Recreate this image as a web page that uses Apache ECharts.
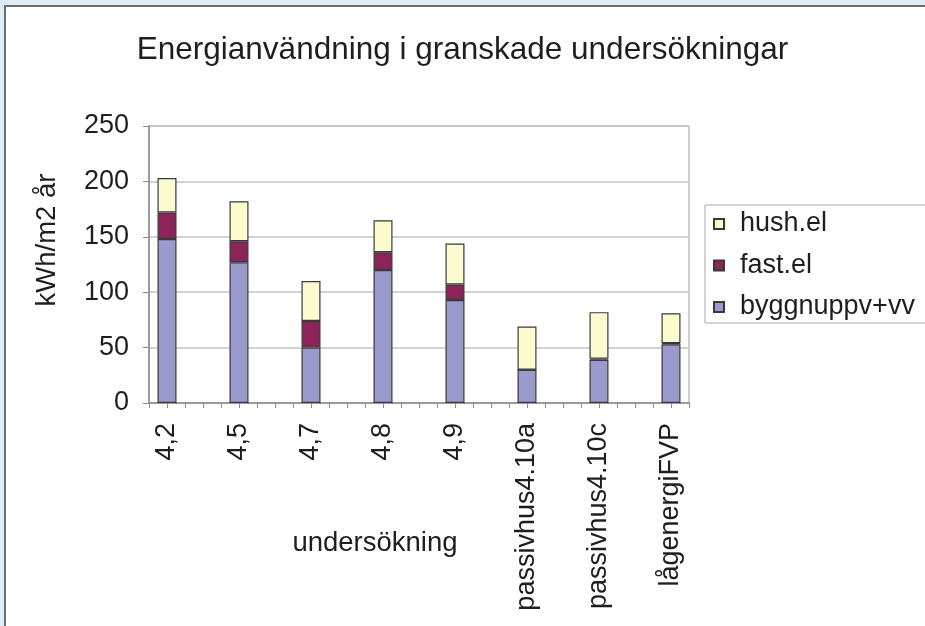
<!DOCTYPE html>
<html>
<head>
<meta charset="utf-8">
<script src="https://cdn.jsdelivr.net/npm/echarts@6/dist/echarts.min.js"></script>
<style>
  html, body { margin: 0; padding: 0; background: #deedf6; }
  #wrap { position: relative; width: 925px; height: 626px; background: #deedf6; overflow: hidden; }
  #frame { position: absolute; left: 4px; top: 5px; width: 921px; height: 621px; box-sizing: border-box;
           background: #ffffff; border-top: 2px solid #6e6e6e; border-left: 2px solid #6e6e6e; }
  #chart { position: absolute; left: 0; top: 0; width: 925px; height: 626px; }
</style>
</head>
<body>
<div id="wrap"><div id="frame"></div><div id="chart"></div></div>
<script>
// ---- data ----
var categories = ['4,2', '4,5', '4,7', '4,8', '4,9', 'passivhus4.10a', 'passivhus4.10c', 'lågenergiFVP'];
var byggnuppv = [148, 127, 50, 120, 93, 30, 39, 53];
var fastEl = [24, 19, 24, 16, 14, 0, 1, 1];
var hushEl = [31, 36, 36, 29, 37, 39, 42, 27];
var yTicks = [0, 50, 100, 150, 200, 250];

// The original Excel axis has 4 tick slots per category; build slot lists for the category axis.
var SLOTS_PER_CAT = 4, FIRST_SLOT = 1;
var slotCount = categories.length * SLOTS_PER_CAT - 1; // 31 slots
var slotNames = [];
for (var s = 0; s < slotCount; s++) slotNames.push('slot' + s);
function slotOf(catIndex) { return FIRST_SLOT + catIndex * SLOTS_PER_CAT; }
function catOfSlot(j) {
  var k = (j - FIRST_SLOT) / SLOTS_PER_CAT;
  return (k >= 0 && k === Math.floor(k) && k < categories.length) ? k : -1;
}
function expand(arr) {
  var out = [];
  for (var j = 0; j < slotCount; j++) out.push(null);
  arr.forEach(function (v, i) { out[slotOf(i)] = v; });
  return out;
}

var FONT = '"Liberation Sans", Arial, sans-serif';
var TXT = '#1e1e1e';
var FS = 27;
var barBorder = { borderColor: '#3a3a3a', borderWidth: 1.2 };

var chart = echarts.init(document.getElementById('chart'), null, { renderer: 'canvas' });
chart.setOption({
  animation: false,
  backgroundColor: 'transparent',
  textStyle: { fontFamily: FONT },
  title: {
    text: 'Energianvändning i granskade undersökningar',
    left: 'center',
    top: 29,
    textStyle: { fontFamily: FONT, fontSize: 31.5, fontWeight: 'normal', color: TXT }
  },
  grid: {
    left: 149, right: 236, top: 126, bottom: 223,
    show: true, borderColor: '#a0a0a0', borderWidth: 1, backgroundColor: 'transparent'
  },
  legend: {
    orient: 'vertical',
    left: 705, top: 205,
    data: ['hush.el', 'fast.el', 'byggnuppv+vv'],
    icon: 'rect',
    itemWidth: 10, itemHeight: 10, itemGap: 11.5,
    padding: [4, 40, 1, 8],
    borderColor: '#a8a8a8', borderWidth: 1,
    textStyle: { fontFamily: FONT, fontSize: FS, lineHeight: 30, color: TXT, padding: [0, 0, 0, 11] }
  },
  xAxis: {
    type: 'category',
    data: slotNames,
    boundaryGap: false,
    axisLine: { show: true, lineStyle: { color: '#8c8c8c', width: 1.5 } },
    axisTick: { show: true, interval: 0, length: 5, lineStyle: { color: '#8c8c8c' } },
    splitLine: { show: false },
    axisLabel: {
      rotate: 90, margin: 20, interval: 0,
      fontFamily: FONT, fontSize: FS, color: TXT,
      formatter: function (value, index) {
        var k = catOfSlot(index);
        return k >= 0 ? categories[k] : '';
      }
    }
  },
  yAxis: {
    type: 'value',
    min: yTicks[0], max: yTicks[yTicks.length - 1], interval: 50,
    axisLine: { show: true, lineStyle: { color: '#8c8c8c', width: 1.5 } },
    axisTick: { show: true, length: 6, lineStyle: { color: '#8c8c8c' } },
    splitLine: { show: true, lineStyle: { color: '#c4c4c4', width: 1.5 } },
    axisLabel: { margin: 20, fontFamily: FONT, fontSize: FS, color: TXT }
  },
  series: [
    { name: 'byggnuppv+vv', type: 'bar', stack: 'tot', barWidth: 19,
      itemStyle: Object.assign({ color: '#9a9acc' }, barBorder), data: expand(byggnuppv) },
    { name: 'fast.el', type: 'bar', stack: 'tot', barWidth: 19,
      itemStyle: Object.assign({ color: '#8c2459' }, barBorder), data: expand(fastEl) },
    { name: 'hush.el', type: 'bar', stack: 'tot', barWidth: 19,
      itemStyle: Object.assign({ color: '#fdfbd0' }, barBorder), data: expand(hushEl) }
  ],
  graphic: [
    { type: 'text', x: 47, y: 240, rotation: Math.PI / 2,
      style: { text: 'kWh/m2 år', fontFamily: FONT, fontSize: 27.5, fill: TXT, align: 'center', verticalAlign: 'middle' } },
    { type: 'text', x: 375, y: 543,
      style: { text: 'undersökning', fontFamily: FONT, fontSize: 27.5, fill: TXT, align: 'center', verticalAlign: 'middle' } }
  ]
});
</script>
</body>
</html>
